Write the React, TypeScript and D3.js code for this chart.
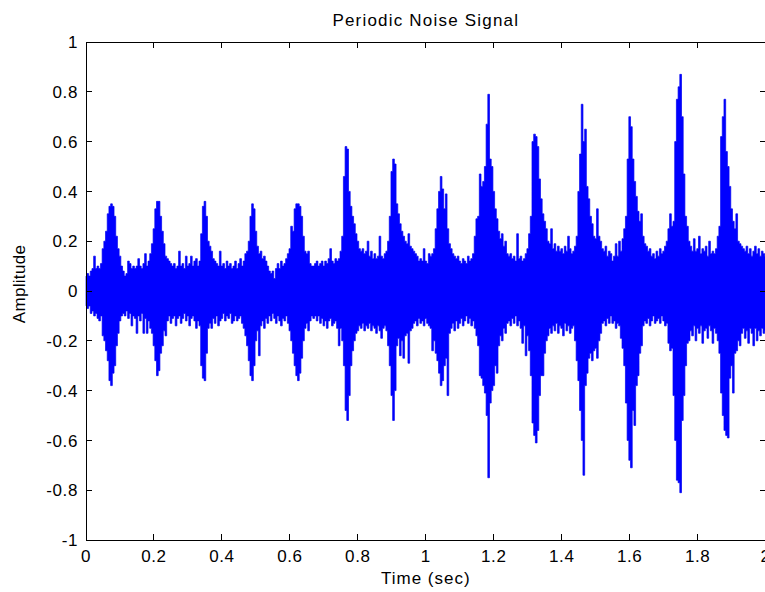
import React from "react";
import * as d3 from "d3";

// envelope of the signal, one value every 5 ms from 0 to 2 s
const timeStep = 0.005;

const upper = [
  0.06, 0.07, 0.06, 0.08, 0.09, 0.14, 0.09, 0.10, 0.09, 0.11,
  0.17, 0.20, 0.24, 0.31, 0.34, 0.35, 0.34, 0.30, 0.22, 0.17,
  0.14, 0.10, 0.08, 0.06, 0.07, 0.12, 0.11, 0.09, 0.10, 0.09,
  0.10, 0.13, 0.10, 0.09, 0.11, 0.15, 0.10, 0.12, 0.15, 0.19,
  0.25, 0.33, 0.36, 0.36, 0.30, 0.24, 0.19, 0.14, 0.13, 0.12,
  0.11, 0.10, 0.11, 0.09, 0.10, 0.16, 0.10, 0.11, 0.09, 0.14,
  0.10, 0.11, 0.14, 0.10, 0.12, 0.13, 0.10, 0.12, 0.23, 0.34,
  0.36, 0.30, 0.20, 0.18, 0.16, 0.13, 0.12, 0.11, 0.10, 0.16,
  0.10, 0.11, 0.09, 0.12, 0.10, 0.11, 0.09, 0.10, 0.12, 0.09,
  0.11, 0.13, 0.10, 0.12, 0.15, 0.16, 0.20, 0.30, 0.35, 0.33,
  0.24, 0.18, 0.15, 0.16, 0.13, 0.14, 0.12, 0.10, 0.08, 0.07,
  0.08, 0.05, 0.09, 0.11, 0.09, 0.12, 0.10, 0.11, 0.13, 0.15,
  0.17, 0.26, 0.24, 0.33, 0.35, 0.35, 0.34, 0.30, 0.22, 0.16,
  0.15, 0.16, 0.11, 0.10, 0.10, 0.11, 0.12, 0.10, 0.11, 0.12,
  0.10, 0.12, 0.11, 0.13, 0.17, 0.12, 0.11, 0.13, 0.12, 0.13,
  0.16, 0.22, 0.46, 0.58, 0.57, 0.40, 0.34, 0.30, 0.27, 0.23,
  0.20, 0.17, 0.16, 0.17, 0.15, 0.16, 0.20, 0.14, 0.16, 0.13,
  0.15, 0.13, 0.14, 0.22, 0.14, 0.13, 0.15, 0.16, 0.20, 0.30,
  0.48, 0.53, 0.51, 0.35, 0.31, 0.27, 0.24, 0.22, 0.20, 0.19,
  0.23, 0.18, 0.17, 0.16, 0.15, 0.14, 0.12, 0.13, 0.12, 0.17,
  0.12, 0.11, 0.15, 0.14, 0.15, 0.17, 0.25, 0.33, 0.40, 0.46,
  0.41, 0.33, 0.39, 0.25, 0.19, 0.17, 0.15, 0.14, 0.13, 0.14,
  0.12, 0.11, 0.13, 0.12, 0.11, 0.14, 0.12, 0.13, 0.15, 0.22,
  0.29, 0.30, 0.47, 0.42, 0.44, 0.50, 0.67, 0.79, 0.53, 0.50,
  0.40, 0.33, 0.29, 0.24, 0.21, 0.23, 0.18, 0.20, 0.15, 0.14,
  0.15, 0.13, 0.14, 0.12, 0.23, 0.13, 0.14, 0.12, 0.13, 0.15,
  0.17, 0.23, 0.30, 0.60, 0.63, 0.62, 0.58, 0.45, 0.37, 0.31,
  0.28, 0.25, 0.20, 0.19, 0.25, 0.17, 0.19, 0.16, 0.18, 0.16,
  0.17, 0.15, 0.18, 0.16, 0.22, 0.17, 0.15, 0.16, 0.18, 0.22,
  0.40, 0.55, 0.75, 0.60, 0.65, 0.42, 0.37, 0.30, 0.27, 0.22,
  0.21, 0.33, 0.22, 0.20, 0.17, 0.16, 0.18, 0.14, 0.16, 0.15,
  0.12, 0.14, 0.19, 0.14, 0.20, 0.16, 0.21, 0.25, 0.30, 0.53,
  0.70, 0.66, 0.53, 0.44, 0.38, 0.32, 0.28, 0.31, 0.22, 0.19,
  0.18, 0.16, 0.17, 0.14, 0.15, 0.13, 0.16, 0.14, 0.17, 0.15,
  0.16, 0.18, 0.20, 0.25, 0.31, 0.26, 0.28, 0.60, 0.77, 0.82,
  0.87, 0.70, 0.47, 0.30, 0.26, 0.20, 0.18, 0.16, 0.21, 0.16,
  0.17, 0.22, 0.15, 0.17, 0.16, 0.18, 0.14, 0.20, 0.15, 0.16,
  0.15, 0.17, 0.22, 0.26, 0.62, 0.70, 0.77, 0.56, 0.50, 0.42,
  0.33, 0.28, 0.25, 0.31, 0.20, 0.19, 0.18, 0.17, 0.16, 0.18,
  0.15, 0.17, 0.14, 0.16, 0.18, 0.15, 0.17, 0.14, 0.16, 0.15,
  0.14,
];

const lower = [
  -0.06, -0.07, -0.06, -0.09, -0.08, -0.10, -0.09, -0.11, -0.12, -0.10,
  -0.18, -0.20, -0.24, -0.28, -0.36, -0.38, -0.33, -0.30, -0.22, -0.17,
  -0.12, -0.10, -0.09, -0.10, -0.08, -0.11, -0.09, -0.14, -0.10, -0.11,
  -0.17, -0.10, -0.12, -0.09, -0.17, -0.11, -0.17, -0.12, -0.15, -0.17,
  -0.22, -0.28, -0.34, -0.32, -0.25, -0.22, -0.16, -0.18, -0.12, -0.10,
  -0.13, -0.11, -0.10, -0.14, -0.11, -0.10, -0.13, -0.11, -0.09, -0.12,
  -0.10, -0.14, -0.11, -0.10, -0.12, -0.15, -0.12, -0.14, -0.30, -0.35,
  -0.36, -0.25, -0.15, -0.13, -0.15, -0.11, -0.13, -0.10, -0.14, -0.12,
  -0.11, -0.09, -0.12, -0.10, -0.11, -0.09, -0.13, -0.12, -0.10, -0.12,
  -0.11, -0.10, -0.13, -0.15, -0.18, -0.22, -0.28, -0.34, -0.36, -0.30,
  -0.20, -0.16, -0.26, -0.14, -0.12, -0.15, -0.11, -0.13, -0.10, -0.12,
  -0.09, -0.11, -0.13, -0.10, -0.12, -0.14, -0.11, -0.12, -0.10, -0.13,
  -0.16, -0.20, -0.25, -0.30, -0.34, -0.36, -0.33, -0.27, -0.20, -0.15,
  -0.13, -0.16, -0.12, -0.10, -0.11, -0.10, -0.12, -0.10, -0.13, -0.11,
  -0.14, -0.12, -0.15, -0.12, -0.11, -0.14, -0.13, -0.12, -0.15, -0.22,
  -0.15, -0.20, -0.30, -0.48, -0.52, -0.42, -0.30, -0.24, -0.20, -0.17,
  -0.16, -0.14, -0.15, -0.13, -0.16, -0.14, -0.15, -0.13, -0.16, -0.14,
  -0.15, -0.17, -0.14, -0.16, -0.19, -0.15, -0.14, -0.16, -0.22, -0.30,
  -0.42, -0.52, -0.40, -0.22, -0.19, -0.26, -0.20, -0.27, -0.18, -0.17,
  -0.29, -0.16, -0.15, -0.13, -0.12, -0.14, -0.11, -0.13, -0.12, -0.14,
  -0.11, -0.13, -0.14, -0.15, -0.24, -0.20, -0.25, -0.28, -0.33, -0.38,
  -0.36, -0.30, -0.27, -0.42, -0.17, -0.15, -0.13, -0.16, -0.12, -0.15,
  -0.13, -0.11, -0.14, -0.12, -0.10, -0.13, -0.11, -0.14, -0.12, -0.15,
  -0.18, -0.22, -0.34, -0.35, -0.38, -0.41, -0.50, -0.75, -0.45, -0.40,
  -0.38, -0.30, -0.33, -0.22, -0.18, -0.20, -0.15, -0.17, -0.13, -0.12,
  -0.14, -0.11, -0.13, -0.10, -0.14, -0.12, -0.15, -0.21, -0.14, -0.26,
  -0.18, -0.24, -0.34, -0.53, -0.58, -0.61, -0.56, -0.42, -0.34, -0.34,
  -0.25, -0.20, -0.18, -0.15, -0.17, -0.14, -0.16, -0.13, -0.17, -0.14,
  -0.15, -0.18, -0.13, -0.16, -0.14, -0.17, -0.15, -0.14, -0.20, -0.28,
  -0.36, -0.48, -0.60, -0.74, -0.38, -0.33, -0.27, -0.25, -0.28, -0.24,
  -0.23, -0.27, -0.20, -0.17, -0.13, -0.12, -0.14, -0.11, -0.13, -0.10,
  -0.13, -0.12, -0.15, -0.13, -0.14, -0.19, -0.23, -0.30, -0.45, -0.60,
  -0.68, -0.71, -0.48, -0.54, -0.38, -0.34, -0.25, -0.22, -0.14, -0.12,
  -0.13, -0.11, -0.14, -0.12, -0.10, -0.13, -0.12, -0.11, -0.13, -0.10,
  -0.12, -0.14, -0.13, -0.21, -0.24, -0.23, -0.42, -0.60, -0.76, -0.77,
  -0.81, -0.52, -0.42, -0.30, -0.21, -0.20, -0.16, -0.18, -0.14, -0.20,
  -0.15, -0.17, -0.14, -0.21, -0.16, -0.15, -0.19, -0.14, -0.16, -0.21,
  -0.15, -0.17, -0.20, -0.25, -0.41, -0.50, -0.56, -0.58, -0.59, -0.35,
  -0.30, -0.41, -0.25, -0.24, -0.20, -0.22, -0.17, -0.15, -0.19, -0.16,
  -0.21, -0.15, -0.17, -0.22, -0.15, -0.20, -0.16, -0.18, -0.15, -0.17,
  -0.16,
];

const xTicks = [0, 0.2, 0.4, 0.6, 0.8, 1, 1.2, 1.4, 1.6, 1.8, 2];
const xTickLabels = ["0", "0.2", "0.4", "0.6", "0.8", "1", "1.2", "1.4", "1.6", "1.8", "2"];
const yTicks = [-1, -0.8, -0.6, -0.4, -0.2, 0, 0.2, 0.4, 0.6, 0.8, 1];
const yTickLabels = ["-1", "-0.8", "-0.6", "-0.4", "-0.2", "0", "0.2", "0.4", "0.6", "0.8", "1"];

const width = 765;
const height = 592;
const margin = { top: 42, right: -0.6, bottom: 52, left: 86 };
const tickLen = 6;
const font = "'Liberation Sans', Arial, Helvetica, sans-serif";

export default function App() {
  const x = d3
    .scaleLinear()
    .domain([0, 2])
    .range([margin.left, width - margin.right]);
  const y = d3
    .scaleLinear()
    .domain([-1, 1])
    .range([height - margin.bottom, margin.top]);

  const area = d3
    .area<number>()
    .x((_, i) => x(i * timeStep))
    .y0((_, i) => y(lower[i]))
    .y1((d) => y(d))
    .curve(d3.curveStep);

  const x0 = x(0);
  const x1 = x(2);
  const yTop = y(1);
  const yBot = y(-1);

  return (
    <svg
      width={width}
      height={height}
      style={{ position: "absolute", left: 0, top: 0, background: "#fff" }}
      fontFamily={font}
    >
      <rect x={0} y={0} width={width} height={height} fill="#fff" />
      <path
        d={area(upper) ?? ""}
        fill="#0000ff"
        stroke="#0000f0"
        strokeWidth={0.7}
        strokeLinejoin="miter"
      />

      <g stroke="#000" strokeWidth={1} shapeRendering="crispEdges">
        <rect x={x0} y={yTop} width={x1 - x0} height={yBot - yTop} fill="none" />
        {xTicks.map((t) => (
          <g key={"x" + t}>
            <line x1={x(t)} x2={x(t)} y1={yBot} y2={yBot - tickLen} />
            <line x1={x(t)} x2={x(t)} y1={yTop} y2={yTop + tickLen} />
          </g>
        ))}
        {yTicks.map((t) => (
          <g key={"y" + t}>
            <line x1={x0} x2={x0 + tickLen} y1={y(t)} y2={y(t)} />
            <line x1={x1} x2={x1 - tickLen} y1={y(t)} y2={y(t)} />
          </g>
        ))}
      </g>

      <g fontSize={17} fill="#000" letterSpacing={0.6}>
        {xTicks.map((t, i) => (
          <text key={"xl" + t} x={x(t)} y={yBot + 22} textAnchor="middle">
            {xTickLabels[i]}
          </text>
        ))}
        {yTicks.map((t, i) => (
          <text key={"yl" + t} x={x0 - 8} y={y(t)} dy="0.36em" textAnchor="end">
            {yTickLabels[i]}
          </text>
        ))}
      </g>

      <text x={(x0 + x1) / 2} y={26} textAnchor="middle" fontSize={17} letterSpacing={1.2}>
        Periodic Noise Signal
      </text>
      <text x={(x0 + x1) / 2} y={584} textAnchor="middle" fontSize={17} letterSpacing={1}>
        Time (sec)
      </text>
      <text
        transform={`translate(25,${(yTop + yBot) / 2 - 7}) rotate(-90)`}
        textAnchor="middle"
        fontSize={17}
        letterSpacing={0.3}
      >
        Amplitude
      </text>
    </svg>
  );
}
